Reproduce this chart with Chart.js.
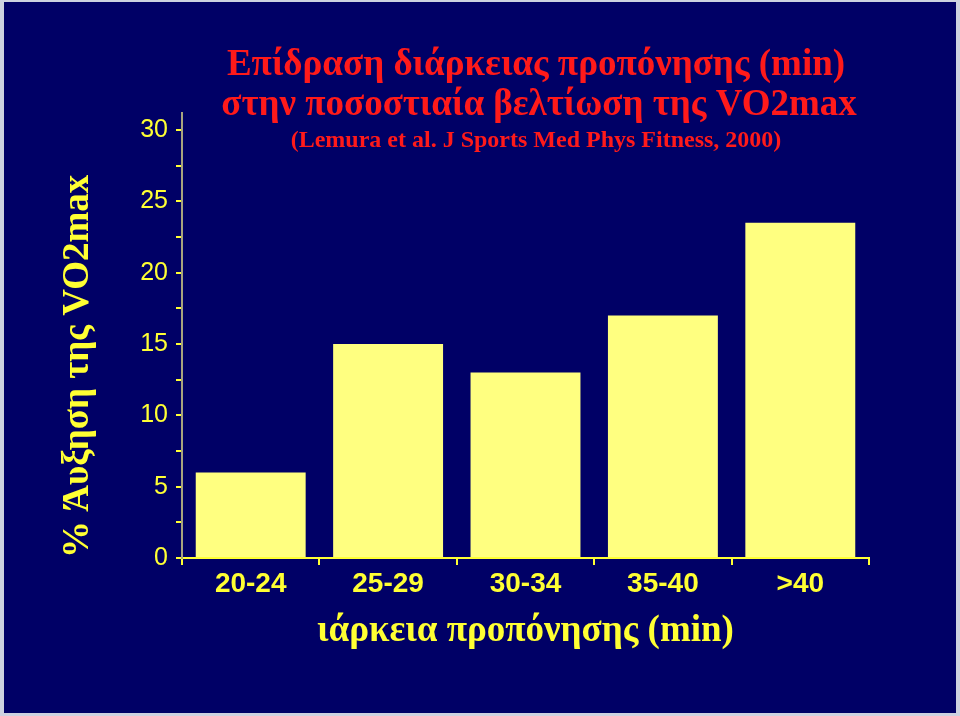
<!DOCTYPE html>
<html>
<head>
<meta charset="utf-8">
<script src="https://cdn.jsdelivr.net/npm/chart.js@4/dist/chart.umd.min.js"></script>
<style>
  html, body { margin: 0; padding: 0; background: #cdd2e0; }
  #marco { position: absolute; left: 4px; top: 2px; width: 952px; height: 711px; background: #000066; }
  #grafico { position: absolute; left: 0; top: 0; }
</style>
</head>
<body>
<div id="marco"></div>
<canvas id="grafico" width="960" height="716"></canvas>
<script>
'use strict';

// Datos
const categorias = ['20-24', '25-29', '30-34', '35-40', '>40'];
const mejoraVO2 = [6, 15, 13, 17, 23.5];
const ticksY = [0, 2.5, 5, 7.5, 10, 12.5, 15, 17.5, 20, 22.5, 25, 27.5, 30];
const lineasTitulo = [
  'Επίδραση διάρκειας προπόνησης (min)',
  'στην ποσοστιαία βελτίωση της VO2max'
];
const referencia = '(Lemura et al. J Sports Med Phys Fitness, 2000)';
const tituloEjeX = 'ιάρκεια προπόνησης (min)';
const tituloEjeY = '% Άυξηση της VO2max';

const AMARILLO = '#ffff33';
const SANS = '"Liberation Sans", Arial, sans-serif';
const SERIF = '"Liberation Serif", "Times New Roman", serif';

// Título de la diapositiva (se superpone al área del gráfico, como en el original)
const pluginTitulo = {
  id: 'tituloDiapositiva',
  afterDraw: function (chart) {
    const ctx = chart.ctx;
    ctx.save();
    ctx.fillStyle = '#ff1a1a';
    ctx.textAlign = 'center';
    ctx.textBaseline = 'middle';
    ctx.font = 'bold 37px ' + SERIF;
    ctx.fillText(lineasTitulo[0], 536, 65);
    ctx.fillText(lineasTitulo[1], 539, 105);
    ctx.font = 'bold 24px ' + SERIF;
    ctx.fillText(referencia, 536, 141);
    ctx.restore();
  }
};

const canvas = document.getElementById('grafico');
new Chart(canvas.getContext('2d'), {
  type: 'bar',
  data: {
    labels: categorias,
    datasets: [{
      data: mejoraVO2,
      backgroundColor: '#ffff80',
      borderWidth: 0,
      barPercentage: 0.8,
      categoryPercentage: 1
    }]
  },
  options: {
    responsive: false,
    animation: false,
    devicePixelRatio: 1,
    layout: { padding: { left: 56, top: 113, right: 91, bottom: 62 } },
    plugins: {
      legend: { display: false },
      tooltip: { enabled: false }
    },
    scales: {
      x: {
        offset: true,
        grid: {
          drawOnChartArea: false,
          drawTicks: true,
          tickLength: 7,
          color: AMARILLO,
          lineWidth: 2,
          offset: true
        },
        border: { display: true, color: AMARILLO, width: 2 },
        ticks: {
          color: AMARILLO,
          padding: 2,
          font: { family: SANS, size: 28, weight: 'bold' }
        },
        title: {
          display: true,
          text: tituloEjeX,
          color: AMARILLO,
          padding: 0,
          font: { family: SERIF, size: 37, weight: 'bold' }
        },
        afterFit: function (scale) { scale.height = 96; }
      },
      y: {
        min: 0,
        max: 31.2,
        afterBuildTicks: function (scale) {
          scale.ticks = ticksY.map(function (v) { return { value: v }; });
        },
        ticks: {
          color: AMARILLO,
          padding: 8,
          font: { family: SANS, size: 25 },
          callback: function (v) { return v % 5 === 0 ? String(v) : ''; }
        },
        grid: {
          drawOnChartArea: false,
          drawTicks: true,
          tickLength: 6,
          color: AMARILLO,
          lineWidth: 2
        },
        border: { display: true, color: '#a8a47e', width: 2 },
        title: {
          display: true,
          text: tituloEjeY,
          align: 'start',
          color: AMARILLO,
          padding: 0,
          font: { family: SERIF, size: 37, weight: 'bold' }
        },
        afterFit: function (scale) { scale.width = 126; }
      }
    }
  },
  plugins: [pluginTitulo]
});
</script>
</body>
</html>
